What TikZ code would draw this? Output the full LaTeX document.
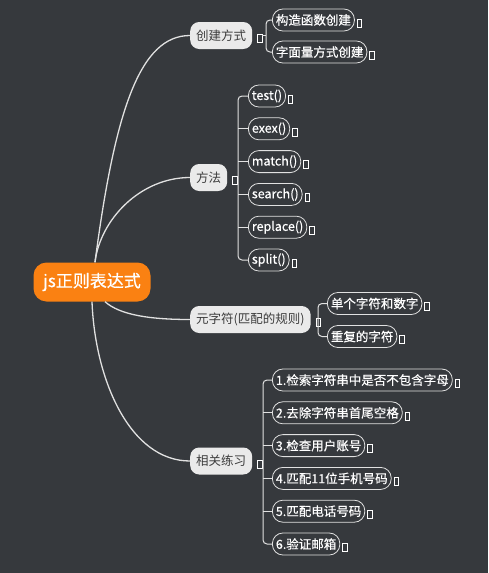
\documentclass[tikz,border=0pt]{standalone}
\usepackage{fontspec}
\setmainfont{Noto Sans CJK SC}
\newfontfamily\kidfont[FakeBold=0.5]{Noto Sans CJK SC}
\usetikzlibrary{calc}
\definecolor{bg}{RGB}{54,57,61}
\definecolor{orangeroot}{RGB}{250,129,18}
\definecolor{lvlfill}{RGB}{234,234,234}
\definecolor{lvltext}{RGB}{60,60,60}
\definecolor{linec}{RGB}{225,225,225}
\tikzset{
  tofubox/.style={draw=white, line width=0.5pt, minimum width=4.5pt, minimum height=8pt, inner sep=0pt, anchor=west, yshift=-3pt},
  rootbox/.style={fill=orangeroot, text=white, rounded corners=13pt, minimum width=117pt, minimum height=39pt, inner sep=0pt, font=\kidfont\fontsize{17}{20}\selectfont},
  lvlbox/.style={fill=lvlfill, text=lvltext, rounded corners=9pt, minimum height=27pt, inner xsep=6pt, inner ysep=0pt, anchor=west, font=\fontsize{12.5}{15}\selectfont,
     label={[tofubox, xshift=5pt]east:{}}},
  kidbox/.style={draw=linec, line width=0.8pt, fill=bg, text=white, rounded corners=10.5pt, minimum height=22pt, inner xsep=3.5pt, inner ysep=0pt, anchor=west, font=\kidfont\fontsize{12.5}{15}\selectfont,
     label={[tofubox, xshift=2pt]east:{}}},
  trunk/.style={draw=linec, line width=1.3pt},
  brk/.style={draw=linec, line width=1pt, rounded corners=4pt},
}
\begin{document}
\begin{tikzpicture}[x=1pt,y=-1pt]
\fill[bg] (0,0) rectangle (488,573);
\useasboundingbox (0,0) rectangle (488,573);

\node[rootbox] (root) at (92,282) {js正则表达式};

\node[lvlbox] (k1) at (190,35.5) {创建方式};
\node[lvlbox] (k2) at (190,177.5) {方法};
\node[lvlbox] (k3) at (190,319.5) {元字符(匹配的规则)};
\node[lvlbox] (k4) at (190,461) {相关练习};

% children of 创建方式
\node[kidbox] (a1) at (272,20) {构造函数创建};
\node[kidbox] (a2) at (272,52) {字面量方式创建};
% children of 方法
\node[kidbox] (m1) at (248,96) {test()};
\node[kidbox] (m2) at (248,128.8) {exex()};
\node[kidbox] (m3) at (248,161.6) {match()};
\node[kidbox] (m4) at (248,194.4) {search()};
\node[kidbox] (m5) at (248,227.2) {replace()};
\node[kidbox] (m6) at (248,260) {split()};
% children of 元字符
\node[kidbox] (y1) at (327,303.5) {单个字符和数字};
\node[kidbox] (y2) at (327,336.5) {重复的字符};
% children of 相关练习
\node[kidbox] (p1) at (272,380) {1.检索字符串中是否不包含字母};
\node[kidbox] (p2) at (272,412.8) {2.去除字符串首尾空格};
\node[kidbox] (p3) at (272,445.6) {3.检查用户账号};
\node[kidbox] (p4) at (272,478.4) {4.匹配11位手机号码};
\node[kidbox] (p5) at (272,511.2) {5.匹配电话号码};
\node[kidbox] (p6) at (272,544) {6.验证邮箱};

% trunk curves
\draw[trunk] ($(root.north)+(3,0)$) .. controls (115,110) and (140,35.5) .. (k1.west);
\draw[trunk] ($(root.north)+(3,0)$) .. controls (100,220) and (140,177.5) .. (k2.west);
\draw[trunk] ($(root.south)+(13,0)$) .. controls (120,315) and (150,319.5) .. (k3.west);
\draw[trunk] (root.south) .. controls (95,380) and (130,461) .. (k4.west);

% bracket x positions
\coordinate (b1) at (266,0);
\coordinate (b2) at (238,0);
\coordinate (b3) at (318,0);
\coordinate (b4) at (263,0);

% brackets
\draw[brk] ($(k1.east)+(10,0)$) -- (k1.east -| b1);
\draw[brk] (a1.west) -| (a2.west -| b1) -- (a2.west);

\draw[brk] (m1.west) -| (m6.west -| b2) -- (m6.west);
\foreach \n in {m2,m3,m4,m5} \draw[brk] (\n.west) -- (\n.west -| b2);

\draw[brk] (y1.west) -| (y2.west -| b3) -- (y2.west);

\draw[brk] (p1.west) -| (p6.west -| b4) -- (p6.west);
\foreach \n in {p2,p3,p4,p5} \draw[brk] (\n.west) -- (\n.west -| b4);
\end{tikzpicture}
\end{document}
